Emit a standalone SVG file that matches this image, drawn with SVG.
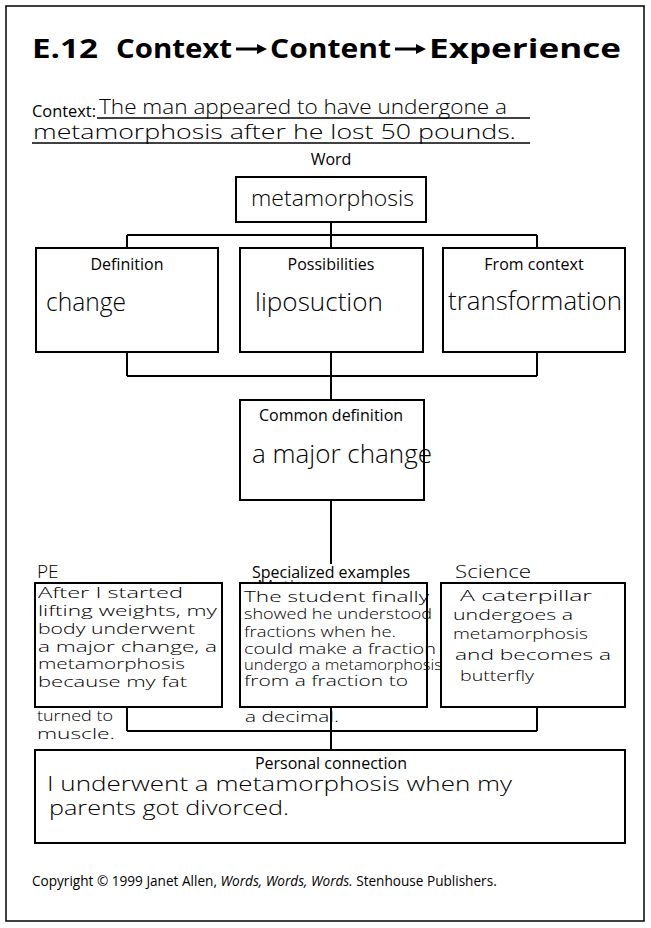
<svg xmlns="http://www.w3.org/2000/svg" width="651" height="928" viewBox="0 0 651 928">
  <style>
    .frame { fill: none; stroke: #000; stroke-width: 1.5; }
    .box { fill: #fff; stroke: #000; stroke-width: 2; }
    .wire { fill: none; stroke: #000; stroke-width: 2; }
    .rule { stroke: #000; stroke-width: 1.3; }
    .label { font-family: "Open Sans", "Liberation Sans", sans-serif; font-size: 16px; fill: #000; text-anchor: middle; }
    .title { font-family: "Open Sans", "Liberation Sans", sans-serif; font-size: 27px; font-weight: bold; fill: #000; }
    .print { font-family: "Open Sans", "Liberation Sans", sans-serif; fill: #000; }
    .hand { font-family: "Open Sans", "DejaVu Sans", sans-serif; font-weight: 300; fill: #000; }
    .arrow { fill: #000; stroke: none; }
  </style>

  <rect class="frame" x="6" y="6" width="638" height="915"/>

  <g id="header">
    <text class="title" x="32" y="58" textLength="66" lengthAdjust="spacingAndGlyphs">E.12</text>
    <text class="title" x="116" y="58" textLength="116" lengthAdjust="spacingAndGlyphs">Context</text>
    <path class="arrow" d="M236 47.5 H257 V44 L267 49 L257 54 V50.5 H236 Z"/>
    <text class="title" x="270" y="58" textLength="121" lengthAdjust="spacingAndGlyphs">Content</text>
    <path class="arrow" d="M395 47.5 H416 V44 L426 49 L416 54 V50.5 H395 Z"/>
    <text class="title" x="429" y="58" textLength="192" lengthAdjust="spacingAndGlyphs">Experience</text>

    <text class="print" x="32" y="117" style="font-size:16px" textLength="64" lengthAdjust="spacingAndGlyphs">Context:</text>
    <line class="rule" x1="97" y1="118" x2="530" y2="118"/>
    <line class="rule" x1="32" y1="143" x2="530" y2="143"/>
    <text class="hand" x="99" y="114" font-size="20" textLength="408" lengthAdjust="spacingAndGlyphs">The man appeared to have undergone a</text>
    <text class="hand" x="33" y="139" font-size="20" textLength="483" lengthAdjust="spacingAndGlyphs">metamorphosis after he lost 50 pounds.</text>
  </g>

  <g id="connectors">
    <path class="wire" d="M331 222 V235 M127 235 H537 M127 235 V248 M331 235 V248 M537 235 V248"/>
    <path class="wire" d="M127 352 V376 M331 352 V400 M537 352 V376 M127 376 H537"/>
    <path class="wire" d="M331 500 V564"/>
    <path class="wire" d="M127 707 V731 M537 707 V731 M127 731 H537 M331 707 V750"/>
  </g>

  <g id="word">
    <text class="label" x="331" y="165">Word</text>
    <rect class="box" x="236" y="177" width="190" height="45"/>
    <text class="hand" x="251" y="206" font-size="22" textLength="163" lengthAdjust="spacingAndGlyphs">metamorphosis</text>
  </g>

  <g id="definition">
    <rect class="box" x="36" y="248" width="182" height="104"/>
    <text class="label" x="127" y="270">Definition</text>
    <text class="hand" x="46" y="311" font-size="26" textLength="80" lengthAdjust="spacingAndGlyphs">change</text>
  </g>

  <g id="possibilities">
    <rect class="box" x="240" y="248" width="183" height="104"/>
    <text class="label" x="331" y="270">Possibilities</text>
    <text class="hand" x="255" y="311" font-size="26" textLength="128" lengthAdjust="spacingAndGlyphs">liposuction</text>
  </g>

  <g id="from-context">
    <rect class="box" x="443" y="248" width="182" height="104"/>
    <text class="label" x="534" y="270">From context</text>
    <text class="hand" x="448" y="310" font-size="26" textLength="174" lengthAdjust="spacingAndGlyphs">transformation</text>
  </g>

  <g id="common-definition">
    <rect class="box" x="240" y="400" width="184" height="100"/>
    <text class="label" x="331" y="421">Common definition</text>
    <text class="hand" x="252" y="463" font-size="26" textLength="180" lengthAdjust="spacingAndGlyphs">a major change</text>
  </g>

  <g id="specialized-examples">
    <text class="label" x="331" y="578">Specialized examples</text>
  </g>

  <g id="pe">
    <text class="hand" x="37" y="578" font-size="19">PE</text>
    <rect class="box" x="35" y="583" width="187" height="124"/>
    <g class="hand" font-size="14.5">
      <text x="38" y="598" textLength="145" lengthAdjust="spacingAndGlyphs">After I started</text>
      <text x="38" y="616" textLength="179" lengthAdjust="spacingAndGlyphs">lifting weights, my</text>
      <text x="38" y="634" textLength="157" lengthAdjust="spacingAndGlyphs">body underwent</text>
      <text x="38" y="652" textLength="179" lengthAdjust="spacingAndGlyphs">a major change, a</text>
      <text x="38" y="669" textLength="147" lengthAdjust="spacingAndGlyphs">metamorphosis</text>
      <text x="38" y="687" textLength="149" lengthAdjust="spacingAndGlyphs">because my fat</text>
      <text x="37" y="721" textLength="76" lengthAdjust="spacingAndGlyphs">turned to</text>
      <text x="37" y="739" textLength="78" lengthAdjust="spacingAndGlyphs">muscle.</text>
    </g>
  </g>

  <g id="math">
    <text class="hand" x="257" y="591" font-size="14" textLength="44" lengthAdjust="spacingAndGlyphs">Math</text>
    <rect class="box" x="240" y="583" width="187" height="124"/>
    <g class="hand" font-size="14">
      <text x="244" y="602" textLength="185" lengthAdjust="spacingAndGlyphs">The student finally</text>
      <text x="244" y="619" textLength="188" lengthAdjust="spacingAndGlyphs">showed he understood</text>
      <text x="244" y="637" textLength="152" lengthAdjust="spacingAndGlyphs">fractions when he.</text>
      <text x="244" y="654" textLength="192" lengthAdjust="spacingAndGlyphs">could make a fraction</text>
      <text x="244" y="670" textLength="198" lengthAdjust="spacingAndGlyphs">undergo a metamorphosis</text>
      <text x="244" y="686" textLength="164" lengthAdjust="spacingAndGlyphs">from a fraction to</text>
      <text x="245" y="722" textLength="94" lengthAdjust="spacingAndGlyphs">a decimal.</text>
    </g>
  </g>

  <g id="science">
    <text class="hand" x="455" y="578" font-size="19" textLength="76" lengthAdjust="spacingAndGlyphs">Science</text>
    <rect class="box" x="441" y="583" width="184" height="124"/>
    <g class="hand" font-size="14.5">
      <text x="460" y="601" textLength="132" lengthAdjust="spacingAndGlyphs">A caterpillar</text>
      <text x="453" y="620" textLength="120" lengthAdjust="spacingAndGlyphs">undergoes a</text>
      <text x="453" y="639" textLength="135" lengthAdjust="spacingAndGlyphs">metamorphosis</text>
      <text x="455" y="660" textLength="156" lengthAdjust="spacingAndGlyphs">and becomes a</text>
      <text x="460" y="681" textLength="74" lengthAdjust="spacingAndGlyphs">butterfly</text>
    </g>
  </g>

  <g id="personal-connection">
    <rect class="box" x="35" y="750" width="590" height="93"/>
    <text class="label" x="331" y="769">Personal connection</text>
    <text class="hand" x="47" y="791" font-size="20" textLength="465" lengthAdjust="spacingAndGlyphs">I underwent a metamorphosis when my</text>
    <text class="hand" x="49" y="815" font-size="20" textLength="240" lengthAdjust="spacingAndGlyphs">parents got divorced.</text>
  </g>

  <text class="print" x="32" y="886" style="font-size:13.6px">Copyright © 1999 Janet Allen, <tspan font-style="italic">Words, Words, Words.</tspan> Stenhouse Publishers.</text>
</svg>
